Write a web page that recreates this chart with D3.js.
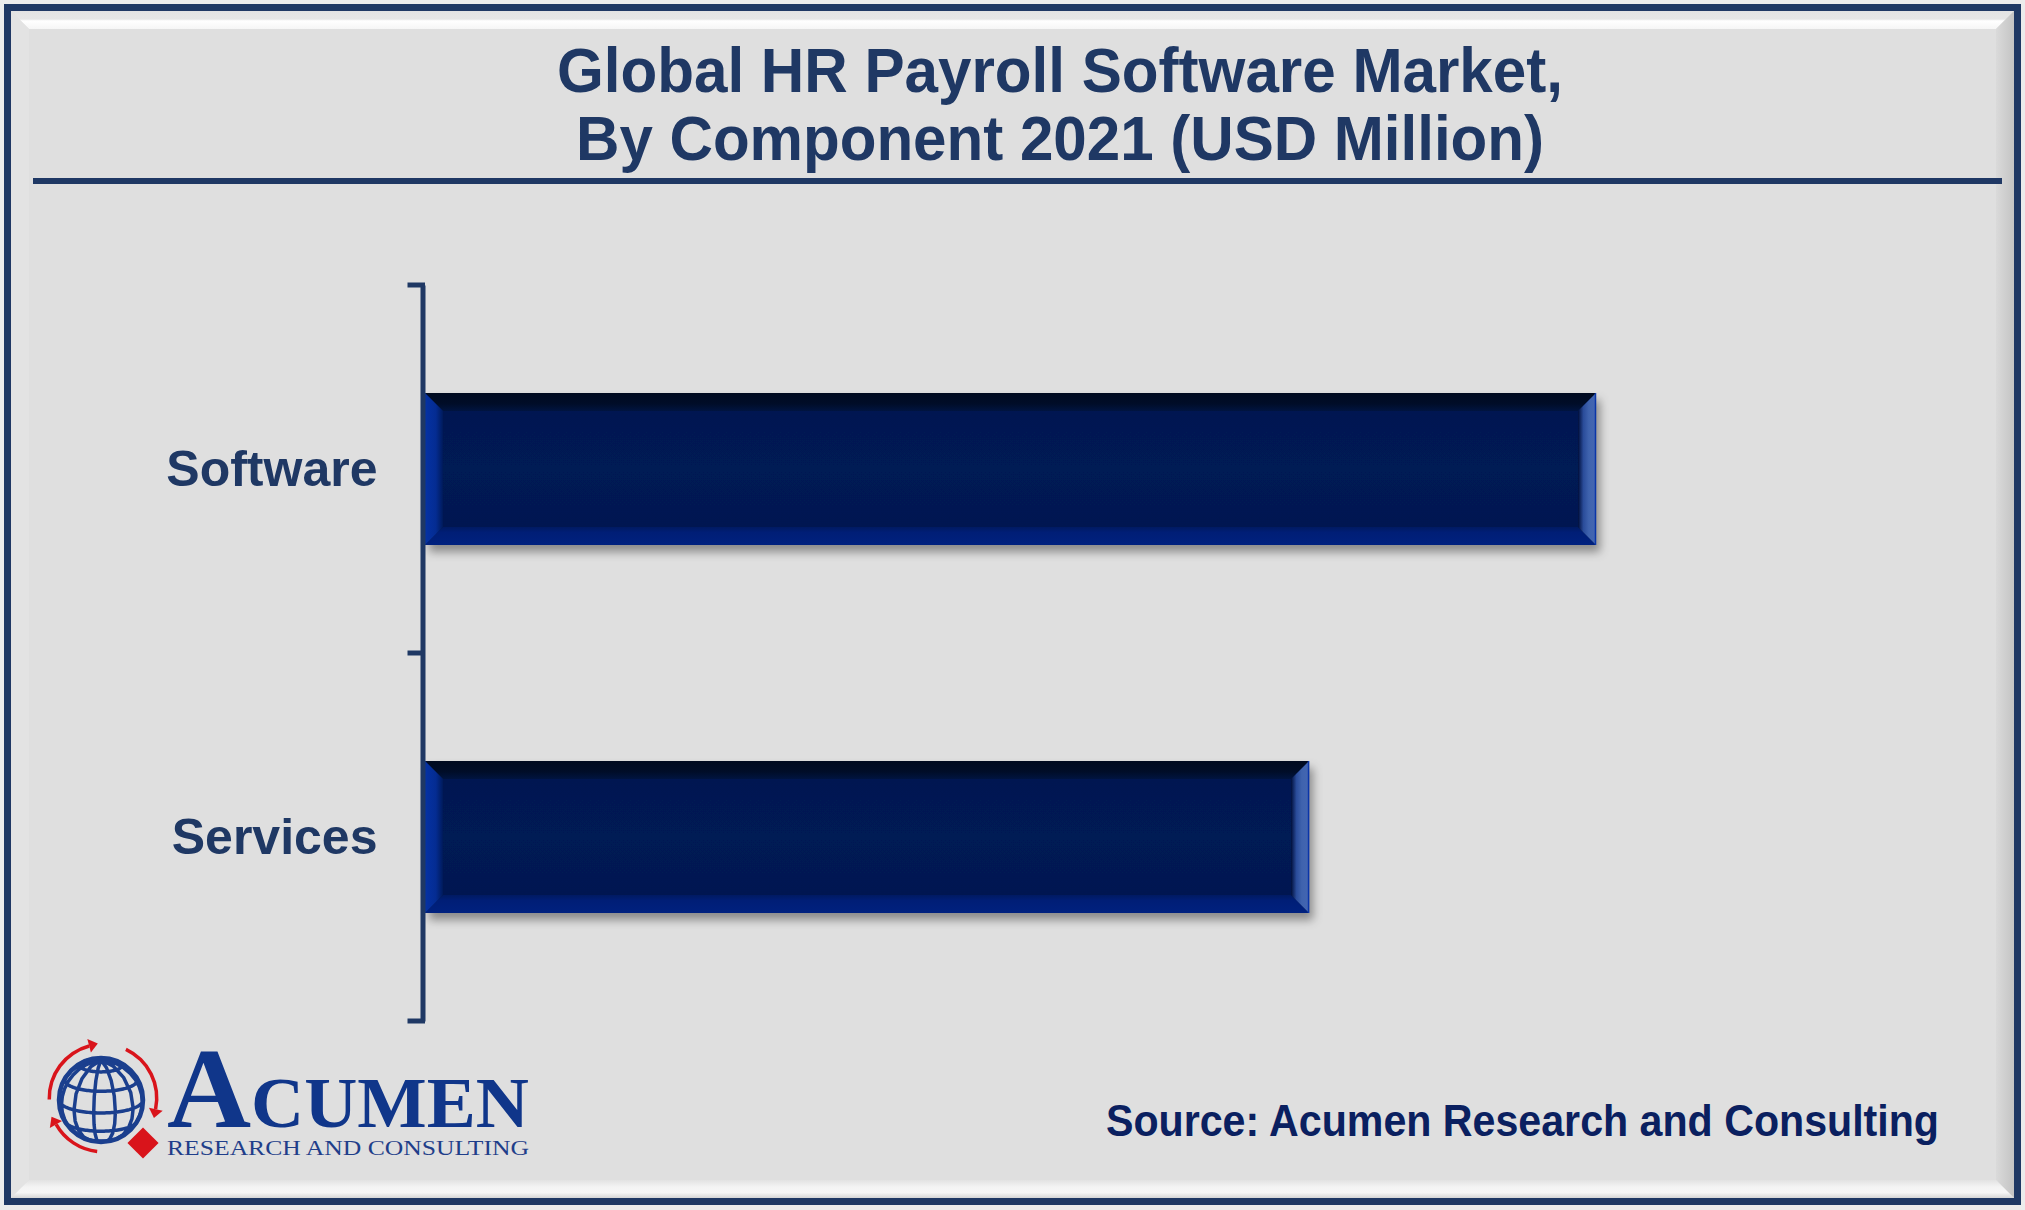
<!DOCTYPE html>
<html>
<head>
<meta charset="utf-8">
<script src="https://cdn.jsdelivr.net/npm/d3@7/dist/d3.min.js"></script>
<style>
  html, body { margin: 0; padding: 0; background: #ececec; }
  svg { display: block; }
</style>
</head>
<body>
<svg id="chart" width="2025" height="1210"></svg>
<script>
// ---- data ----
const titleLines = ["Global HR Payroll Software Market,", "By Component 2021 (USD Million)"];
const categories = ["Software", "Services"];
const values = [3640, 2748];
const sourceText = "Source: Acumen Research and Consulting";
const logoWord = ["A", "CUMEN"];
const logoSub = "RESEARCH AND CONSULTING";

const navy = "#1f3864";
const svg = d3.select("#chart");
const defs = svg.append("defs");

// ---- frame / panel ----
svg.append("rect").attr("x", 7.5).attr("y", 7.5).attr("width", 2010).attr("height", 1194)
  .attr("fill", "#dfdfdf").attr("stroke", navy).attr("stroke-width", 7);

function lg(id, x1, y1, x2, y2, stops) {
  const g = defs.append("linearGradient").attr("id", id)
    .attr("x1", x1).attr("y1", y1).attr("x2", x2).attr("y2", y2);
  stops.forEach(s => g.append("stop").attr("offset", s[0]).attr("stop-color", s[1]));
}
lg("topFacet", 0, 0, 0, 1, [[0, "#e3e3e3"], [0.45, "#e6e6e6"], [0.55, "#ffffff"], [1, "#f6f6f6"]]);
lg("botFacet", 0, 0, 0, 1, [[0, "#e2e2e2"], [0.4, "#f4f4f4"], [0.7, "#f6f6f6"], [1, "#d6d6d6"]]);
lg("rightFacet", 0, 0, 1, 0, [[0, "#dadada"], [1, "#c4c4c4"]]);
const L = 11, R = 2014, T = 11, B = 1198, bv = 18;
const facets = [
  {pts: [[L, T], [R, T], [R - bv, T + bv], [L + bv, T + bv]], fill: "url(#topFacet)"},
  {pts: [[L, T], [L + bv, T + bv], [L + bv, B - bv], [L, B]], fill: "#e3e3e3"},
  {pts: [[R, T], [R, B], [R - bv, B - bv], [R - bv, T + bv]], fill: "url(#rightFacet)"},
  {pts: [[L, B], [R, B], [R - bv, B - bv], [L + bv, B - bv]], fill: "url(#botFacet)"}
];
svg.append("g").selectAll("polygon").data(facets).join("polygon")
  .attr("points", d => d.pts.map(p => p.join(",")).join(" "))
  .attr("fill", d => d.fill);

// ---- title ----
const titleWidths = [1006, 968];
svg.append("g").selectAll("text").data(titleLines).join("text")
  .attr("x", 1060).attr("y", (d, i) => 92 + i * 68)
  .attr("text-anchor", "middle")
  .attr("font-family", "'Liberation Sans', Arial, sans-serif")
  .attr("font-weight", "bold").attr("font-size", 63)
  .attr("textLength", (d, i) => titleWidths[i]).attr("lengthAdjust", "spacingAndGlyphs")
  .attr("fill", navy).text(d => d);

svg.append("line").attr("x1", 33).attr("x2", 2002).attr("y1", 181).attr("y2", 181)
  .attr("stroke", navy).attr("stroke-width", 6);

// ---- scales ----
const x = d3.scaleLinear().domain([0, 4000]).range([425, 425 + 1171 * 4000 / 3640]);
const y = d3.scaleBand().domain(categories).range([285, 1021])
  .paddingInner(0.587).paddingOuter(0.2935);

// ---- bar gradients & shadow ----
const f = defs.append("filter").attr("id", "shadow").attr("x", "-5%").attr("y", "-20%")
  .attr("width", "115%").attr("height", "150%");
f.append("feDropShadow").attr("dx", 4).attr("dy", 7).attr("stdDeviation", 5)
  .attr("flood-color", "#000").attr("flood-opacity", 0.38);
lg("bevTop", 0, 0, 0, 1, [[0, "#000a1f"], [0.6, "#000d28"], [1, "#001440"]]);
lg("bevBot", 0, 0, 0, 1, [[0, "#001a62"], [0.3, "#001e76"], [1, "#00217f"]]);
lg("bevLeft", 0, 0, 1, 0, [[0, "#0532a4"], [0.6, "#042c92"], [1, "#001a5a"]]);
lg("bevRight", 0, 0, 1, 0, [[0, "#000f3c"], [0.3, "#2a4c9a"], [0.6, "#3f63ae"], [1, "#4466b2"]]);
lg("face", 0, 0, 0, 1, [[0, "#001850"], [0.5, "#001a54"], [1, "#001850"]]);

const bars = svg.append("g").selectAll("g").data(categories.map((c, i) => ({c, v: values[i]})))
  .join("g");
bars.append("rect")
  .attr("x", x(0)).attr("y", d => y(d.c))
  .attr("width", d => x(d.v) - x(0)).attr("height", y.bandwidth())
  .attr("fill", "url(#face)").attr("filter", "url(#shadow)");
const bb = 18;
function bevels(d) {
  const x0 = x(0), x1 = x(d.v), y0 = y(d.c), y1 = y0 + y.bandwidth();
  return [
    {p: [[x0, y0], [x1, y0], [x1 - bb, y0 + bb], [x0 + bb, y0 + bb]], f: "url(#bevTop)"},
    {p: [[x0, y1], [x1, y1], [x1 - bb, y1 - bb], [x0 + bb, y1 - bb]], f: "url(#bevBot)"},
    {p: [[x0, y0], [x0 + bb, y0 + bb], [x0 + bb, y1 - bb], [x0, y1]], f: "url(#bevLeft)"},
    {p: [[x1, y0], [x1, y1], [x1 - bb, y1 - bb], [x1 - bb, y0 + bb]], f: "url(#bevRight)"}
  ];
}
bars.selectAll("polygon").data(d => bevels(d)).join("polygon")
  .attr("points", d => d.p.map(p => p.join(",")).join(" "))
  .attr("fill", d => d.f);
bars.append("line")
  .attr("x1", d => x(d.v) - 0.5).attr("x2", d => x(d.v) - 0.5)
  .attr("y1", d => y(d.c)).attr("y2", d => y(d.c) + y.bandwidth())
  .attr("stroke", "#0a35a8").attr("stroke-width", 1.5);

// ---- axis ----
const axisX = x(0) - 2.5;
const ax = svg.append("g").attr("transform", `translate(${axisX},0)`)
  .call(d3.axisLeft(y).tickSize(0).tickPadding(45).tickSizeOuter(0));
ax.select(".domain").attr("stroke", navy).attr("stroke-width", 5);
ax.selectAll("text")
  .attr("font-family", "'Liberation Sans', Arial, sans-serif")
  .attr("font-weight", "bold").attr("font-size", 50).attr("fill", navy)
  .attr("dy", "0.33em");
const edges = [y.range()[0]].concat(categories.map(c => y(c) - y.step() * y.paddingInner() / 2 + y.step()));
ax.selectAll("line.edge").data(edges).join("line").attr("class", "edge")
  .attr("x1", -15).attr("x2", 2.5).attr("y1", d => d).attr("y2", d => d)
  .attr("stroke", navy).attr("stroke-width", 5);

// ---- source ----
svg.append("text").attr("x", 1106).attr("y", 1136)
  .attr("font-family", "'Liberation Sans', Arial, sans-serif")
  .attr("font-weight", "bold").attr("font-size", 44).attr("fill", "#0a2060")
  .attr("textLength", 833).attr("lengthAdjust", "spacingAndGlyphs")
  .text(sourceText);

// ---- logo ----
const logo = svg.append("g");
const proj = d3.geoOrthographic().scale(42).translate([101, 1100]).rotate([20, -18]).clipAngle(90);
const gpath = d3.geoPath(proj);
logo.append("path").datum(d3.geoGraticule().step([30, 30])()).attr("d", gpath)
  .attr("fill", "none").attr("stroke", "#1b3f8e").attr("stroke-width", 3.5);
logo.append("circle").attr("cx", 101).attr("cy", 1100).attr("r", 42)
  .attr("fill", "none").attr("stroke", "#1b3f8e").attr("stroke-width", 4.5);
const arc = d3.arc().innerRadius(52).outerRadius(55.5);
const arcSpecs = [
  {s: -1.6, e: -0.26},    // left -> top
  {s: 0.44, e: 1.78},     // top-right -> right
  {s: 3.25, e: 4.2}       // bottom -> lower-left
];
logo.selectAll("path.ra").data(arcSpecs).join("path").attr("class", "ra")
  .attr("transform", "translate(103,1098)")
  .attr("d", d => arc({startAngle: d.s, endAngle: d.e}))
  .attr("fill", "#d9141b");
const heads = arcSpecs.map(d => {
  const a = d.e, r = 54;
  const px = 103 + r * Math.sin(a), py = 1098 - r * Math.cos(a);
  const tx = Math.cos(a), ty = Math.sin(a);
  const nx = Math.sin(a), ny = -Math.cos(a);
  return [[px + tx * 9, py + ty * 9], [px - nx * 7, py - ny * 7], [px + nx * 7, py + ny * 7]];
});
logo.selectAll("polygon.rh").data(heads).join("polygon").attr("class", "rh")
  .attr("points", d => d.map(p => p.join(",")).join(" ")).attr("fill", "#d9141b");
logo.append("rect").attr("x", -11).attr("y", -11).attr("width", 22).attr("height", 22)
  .attr("transform", "translate(143,1143) rotate(45)").attr("fill", "#d9141b");

const lw = logo.append("text").attr("x", 167).attr("y", 1127)
  .attr("font-family", "'Liberation Serif', 'Times New Roman', serif")
  .attr("font-weight", "bold").attr("fill", "#10368a")
  .attr("textLength", 362).attr("lengthAdjust", "spacingAndGlyphs");
lw.append("tspan").attr("font-size", 114).text(logoWord[0]);
lw.append("tspan").attr("font-size", 72).text(logoWord[1]);
logo.append("text").attr("x", 167).attr("y", 1155)
  .attr("font-family", "'Liberation Serif', 'Times New Roman', serif")
  .attr("font-size", 20).attr("fill", "#1f3e8a")
  .attr("textLength", 362).attr("lengthAdjust", "spacingAndGlyphs")
  .text(logoSub);
</script>
</body>
</html>
